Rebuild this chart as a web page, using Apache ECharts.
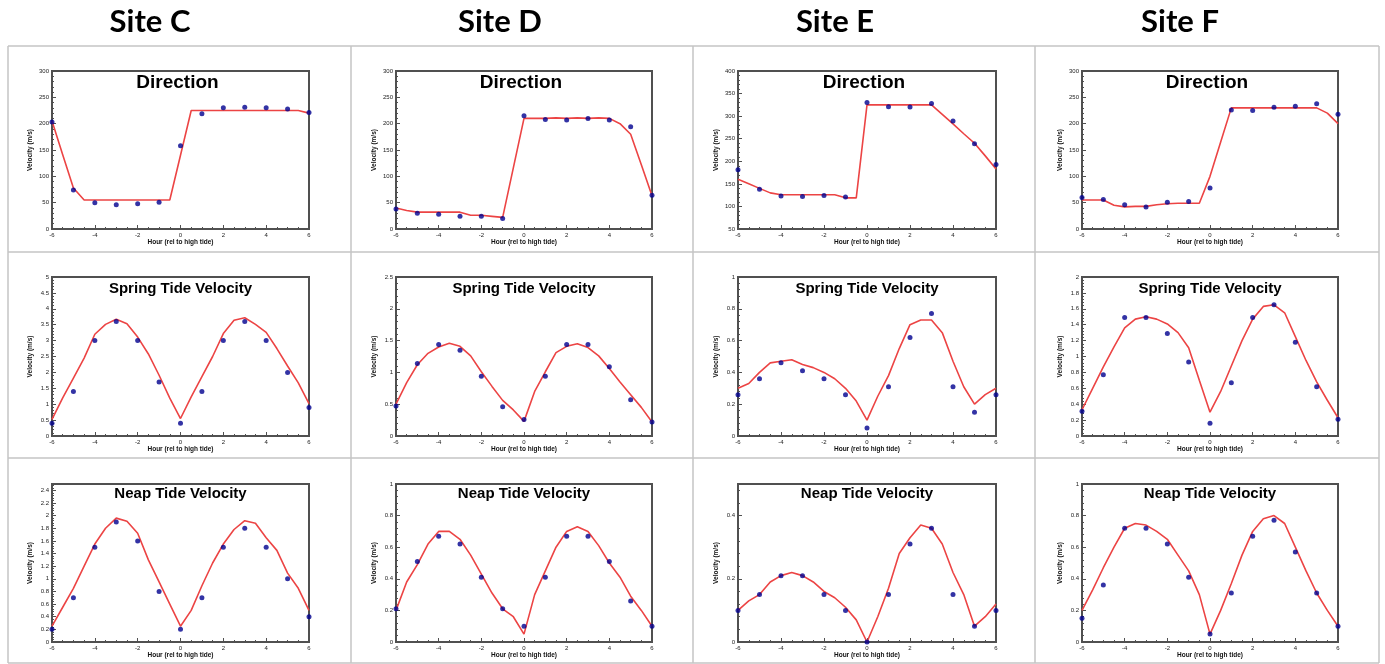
<!DOCTYPE html>
<html><head><meta charset="utf-8">
<script src="https://cdn.jsdelivr.net/npm/echarts@6/dist/echarts.min.js"></script>
<style>html,body{margin:0;padding:0;background:#fff}#c{width:1385px;height:664px}</style>
</head><body><div id="c"></div>
<script>
// ---------- DATA ----------
const sites = ['Site C', 'Site D', 'Site E', 'Site F'];
const panelTitles = ['Direction', 'Spring Tide Velocity', 'Neap Tide Velocity'];
const hours = [-6, -5, -4, -3, -2, -1, 0, 1, 2, 3, 4, 5, 6];
const halfHours = [-6, -5.5, -5, -4.5, -4, -3.5, -3, -2.5, -2, -1.5, -1, -0.5, 0, 0.5, 1, 1.5, 2, 2.5, 3, 3.5, 4, 4.5, 5, 5.5, 6];
const xTickStep = 2;
const yAxisName = 'Velocity (m/s)';
const xAxisName = 'Hour (rel to high tide)';

// Direction (row 1)
const dirC_pts  = [203, 74, 50, 46, 48, 51, 158, 219, 230, 231, 230, 228, 221];
const dirC_line = [205, 141, 78, 55, 55, 55, 55, 55, 55, 55, 55, 55, 140, 225, 225, 225, 225, 225, 225, 225, 225, 225, 225, 225, 220];
const dirD_pts  = [38, 30, 28, 24, 24, 20, 215, 208, 207, 210, 207, 194, 64];
const dirD_line = [40, 35, 32, 32, 32, 32, 32, 26, 26, 24, 22, 116, 210, 210, 210, 211, 210, 211, 210, 211, 210, 200, 180, 122, 63];
const dirE_pts  = [181, 138, 123, 122, 124, 121, 330, 321, 320, 328, 289, 239, 193];
const dirE_line = [160, 150, 140, 130, 126, 126, 126, 126, 126, 126, 119, 119, 325, 325, 325, 325, 325, 325, 325, 304, 283, 261, 240, 212, 183];
const dirF_pts  = [60, 56, 46, 42, 51, 52, 78, 226, 225, 231, 233, 238, 218];
const dirF_line = [55, 55, 55, 45, 42, 43, 43, 46, 48, 49, 49, 49, 100, 165, 230, 230, 230, 230, 230, 230, 230, 230, 230, 220, 200];

// Spring tide velocity (row 2)
const sprC_pts  = [0.4, 1.4, 3.0, 3.6, 3.0, 1.7, 0.4, 1.4, 3.0, 3.6, 3.0, 2.0, 0.9];
const sprC_line = [0.52, 1.2, 1.82, 2.45, 3.2, 3.51, 3.67, 3.53, 3.11, 2.58, 1.91, 1.19, 0.55, 1.23, 1.87, 2.5, 3.22, 3.64, 3.72, 3.51, 3.26, 2.75, 2.2, 1.67, 1.02];
const sprD_pts  = [0.47, 1.14, 1.44, 1.35, 0.94, 0.46, 0.26, 0.94, 1.44, 1.44, 1.09, 0.57, 0.22];
const sprD_line = [0.5, 0.84, 1.12, 1.3, 1.4, 1.46, 1.41, 1.26, 1.01, 0.78, 0.56, 0.41, 0.23, 0.7, 1.01, 1.31, 1.41, 1.45, 1.39, 1.26, 1.06, 0.85, 0.65, 0.45, 0.22];
const sprE_pts  = [0.26, 0.36, 0.46, 0.41, 0.36, 0.26, 0.05, 0.31, 0.62, 0.77, 0.31, 0.15, 0.26];
const sprE_line = [0.3, 0.33, 0.4, 0.46, 0.47, 0.48, 0.45, 0.43, 0.4, 0.36, 0.3, 0.22, 0.1, 0.25, 0.38, 0.55, 0.7, 0.73, 0.73, 0.65, 0.47, 0.31, 0.2, 0.26, 0.3];
const sprF_pts  = [0.31, 0.77, 1.49, 1.49, 1.29, 0.93, 0.16, 0.67, 1.49, 1.65, 1.18, 0.62, 0.21];
const sprF_line = [0.33, 0.6, 0.87, 1.12, 1.36, 1.47, 1.5, 1.47, 1.41, 1.3, 1.11, 0.7, 0.3, 0.56, 0.88, 1.2, 1.47, 1.63, 1.65, 1.55, 1.25, 0.95, 0.68, 0.45, 0.23];

// Neap tide velocity (row 3)
const nepC_pts  = [0.2, 0.7, 1.5, 1.9, 1.6, 0.8, 0.2, 0.7, 1.5, 1.8, 1.5, 1.0, 0.4];
const nepC_line = [0.25, 0.55, 0.85, 1.2, 1.55, 1.8, 1.96, 1.91, 1.72, 1.3, 0.95, 0.6, 0.25, 0.5, 0.89, 1.25, 1.55, 1.78, 1.92, 1.88, 1.65, 1.45, 1.09, 0.85, 0.5];
const nepD_pts  = [0.21, 0.51, 0.67, 0.62, 0.41, 0.21, 0.1, 0.41, 0.67, 0.67, 0.51, 0.26, 0.1];
const nepD_line = [0.2, 0.38, 0.49, 0.62, 0.7, 0.7, 0.65, 0.55, 0.43, 0.31, 0.21, 0.16, 0.05, 0.3, 0.45, 0.6, 0.7, 0.73, 0.7, 0.61, 0.5, 0.41, 0.29, 0.2, 0.1];
const nepE_pts  = [0.1, 0.15, 0.21, 0.21, 0.15, 0.1, 0.0, 0.15, 0.31, 0.36, 0.15, 0.05, 0.1];
const nepE_line = [0.1, 0.13, 0.15, 0.19, 0.21, 0.22, 0.21, 0.19, 0.16, 0.14, 0.11, 0.07, 0.0, 0.08, 0.17, 0.28, 0.33, 0.37, 0.36, 0.31, 0.22, 0.15, 0.05, 0.08, 0.12];
const nepF_pts  = [0.15, 0.36, 0.72, 0.72, 0.62, 0.41, 0.05, 0.31, 0.67, 0.77, 0.57, 0.31, 0.1];
const nepF_line = [0.2, 0.33, 0.47, 0.6, 0.72, 0.75, 0.74, 0.7, 0.65, 0.55, 0.45, 0.3, 0.05, 0.2, 0.37, 0.55, 0.7, 0.78, 0.8, 0.75, 0.6, 0.45, 0.31, 0.2, 0.1];

// y-axis tick settings per row (columns C, D, E, F)
const yMinRow  = [[0, 0, 50, 0], [0, 0, 0, 0], [0, 0, 0, 0]];
const yMaxRow  = [[300, 300, 400, 300], [5, 2.5, 1, 2], [2.5, 1, 0.5, 1]];
const yStepRow = [[50, 50, 50, 50], [0.5, 0.5, 0.2, 0.2], [0.2, 0.2, 0.2, 0.2]];

const pointsRows = [[dirC_pts, dirD_pts, dirE_pts, dirF_pts], [sprC_pts, sprD_pts, sprE_pts, sprF_pts], [nepC_pts, nepD_pts, nepE_pts, nepF_pts]];
const linesRows  = [[dirC_line, dirD_line, dirE_line, dirF_line], [sprC_line, sprD_line, sprE_line, sprF_line], [nepC_line, nepD_line, nepE_line, nepF_line]];

// ---------- LAYOUT ----------
const colLeft = [52, 396, 738, 1082];
const colWidth = [257, 256, 258, 256];
const rowTop = [71, 277, 484];
const rowHeight = [158, 159, 158];
const titleY = [83, 289, 494];
const titleDx = [-3, 0, 0];
const titleSize = [19, 15, 15];
const headX = [150, 500, 835, 1180];
const tableX = [8, 351, 693, 1035, 1379];
const tableY = [46, 252, 458, 663];

const frame = '#505050';
const grids = [], xAxes = [], yAxes = [], series = [], graphics = [];

function maxOnTick(r, c) {
  const n = (yMaxRow[r][c] - yMinRow[r][c]) / yStepRow[r][c];
  return Math.abs(n - Math.round(n)) < 1e-6;
}

for (let r = 0; r < 3; r++) {
  for (let c = 0; c < 4; c++) {
    const idx = r * 4 + c;
    grids.push({left: colLeft[c], top: rowTop[r], width: colWidth[c], height: rowHeight[r],
      show: true, borderColor: frame, borderWidth: 2, backgroundColor: 'transparent'});
    xAxes.push({type: 'value', gridIndex: idx, min: -6, max: 6, interval: xTickStep,
      axisLine: {show: true, onZero: false, lineStyle: {color: frame, width: 2}},
      axisTick: {show: true, inside: true, length: 4, lineStyle: {color: frame, width: 1}},
      minorTick: {show: true, splitNumber: 4, length: 2, lineStyle: {color: frame, width: 1}},
      splitLine: {show: false},
      axisLabel: {fontSize: 6, color: '#222', margin: 3, fontFamily: 'Liberation Sans'},
      name: xAxisName, nameLocation: 'middle', nameGap: 10,
      nameTextStyle: {fontSize: 6.5, fontWeight: 'bold', color: '#111', fontFamily: 'Liberation Sans'}});
    yAxes.push({type: 'value', gridIndex: idx, min: yMinRow[r][c], max: yMaxRow[r][c], interval: yStepRow[r][c],
      axisLine: {show: true, onZero: false, lineStyle: {color: frame, width: 2}},
      axisTick: {show: true, inside: true, length: 4, lineStyle: {color: frame, width: 1}},
      minorTick: {show: true, splitNumber: 5, length: 2, lineStyle: {color: frame, width: 1}},
      splitLine: {show: false},
      axisLabel: {fontSize: 6, color: '#222', margin: 3, fontFamily: 'Liberation Sans', showMaxLabel: maxOnTick(r, c)},
      name: yAxisName, nameLocation: 'middle', nameGap: 18,
      nameTextStyle: {fontSize: 6.5, fontWeight: 'bold', color: '#111', fontFamily: 'Liberation Sans'}});
    series.push({type: 'line', xAxisIndex: idx, yAxisIndex: idx, showSymbol: false, silent: true,
      data: halfHours.map((h, i) => [h, linesRows[r][c][i]]),
      lineStyle: {color: '#ec4444', width: 1.6}, z: 3});
    series.push({type: 'scatter', xAxisIndex: idx, yAxisIndex: idx, symbolSize: 5, clip: false, silent: true,
      data: hours.map((h, i) => [h, pointsRows[r][c][i]]),
      itemStyle: {color: '#00008f'}, z: 4});
    graphics.push({type: 'text', x: colLeft[c] + colWidth[c] / 2 + titleDx[r], y: titleY[r], z: 10,
      style: {text: panelTitles[r], fontSize: titleSize[r], fontWeight: 'bold', fontFamily: 'Liberation Sans',
        fill: '#000', textAlign: 'center', textVerticalAlign: 'middle'}});
  }
}
sites.forEach((s, c) => {
  graphics.push({type: 'text', x: headX[c], y: 22, style: {text: s, fontSize: 31, fontWeight: 'bold',
    fontFamily: 'Lato', fill: '#000', textAlign: 'center', textVerticalAlign: 'middle'}});
});
tableX.forEach(x => graphics.push({type: 'line', shape: {x1: x, y1: tableY[0], x2: x, y2: tableY[3]},
  style: {stroke: '#c4c4c4', lineWidth: 1.5}, z: 0}));
tableY.forEach(y => graphics.push({type: 'line', shape: {x1: tableX[0], y1: y, x2: tableX[4], y2: y},
  style: {stroke: '#c4c4c4', lineWidth: 1.5}, z: 0}));

const chart = echarts.init(document.getElementById('c'), null, {renderer: 'canvas'});
chart.setOption({animation: false, backgroundColor: '#fff', grid: grids, xAxis: xAxes, yAxis: yAxes, series: series, graphic: graphics});
</script></body></html>
